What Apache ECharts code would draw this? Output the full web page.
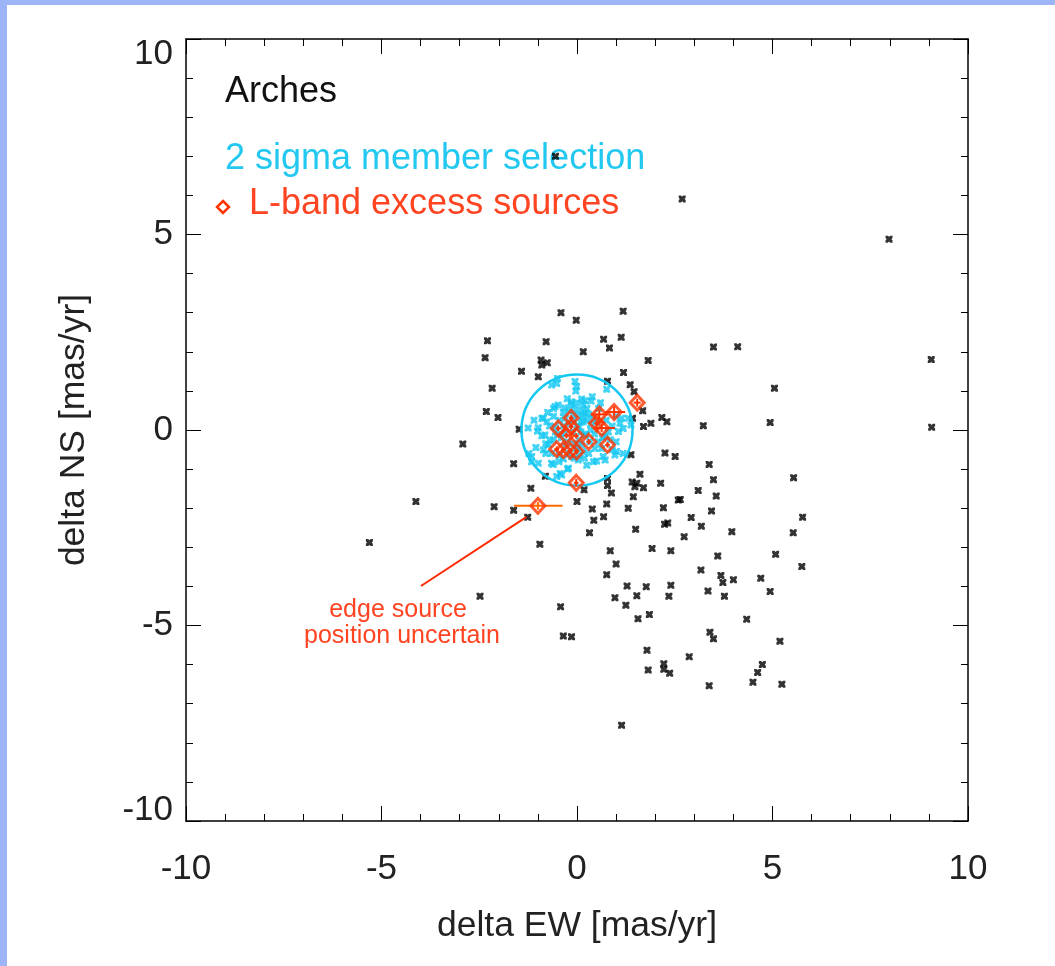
<!DOCTYPE html>
<html><head><meta charset="utf-8">
<script src="https://cdn.jsdelivr.net/npm/echarts@6/dist/echarts.min.js"></script>
<style>
html,body{margin:0;padding:0;background:#fff;}
#main{position:absolute;left:0;top:0;width:1055px;height:966px;}
#bt{position:absolute;left:0;top:0;width:1055px;height:5px;background:#9db5f7;}
#bl{position:absolute;left:0;top:0;width:7px;height:966px;background:#9db5f7;}
</style></head>
<body><div id="main"></div><div id="bt"></div><div id="bl"></div>
<script>
// ---- data (mas/yr) ----
const xTickLabels = ['-10','-5','0','5','10'];
const yTickLabels = ['-10','-5','0','5','10'];

const fieldStars = [
 [2.69,5.91],[7.98,4.88],[9.06,1.80],[9.07,0.07],[-0.55,7.0],
 [3.49,2.12],[4.11,2.13],[5.05,1.07],[3.23,0.11],[4.94,0.19],[3.38,-0.88],[3.49,-1.27],[5.54,-1.22],
 [-0.41,3.0],[-0.02,2.81],[1.18,3.04],[-2.29,2.28],[-0.79,2.26],[0.68,2.32],[1.13,2.37],[0.83,2.10],
 [0.16,2.0],[-2.35,1.85],[-0.92,1.79],[-0.76,1.72],[-0.90,1.66],[1.82,1.78],[-1.42,1.50],[-0.99,1.36],
 [1.19,1.47],[0.78,1.25],[1.36,1.16],[1.46,0.98],[-2.17,1.07],[-2.32,0.47],[-2.02,0.32],[-2.92,-0.36],
 [-1.48,0.02],[1.68,0.49],[1.70,0.09],[1.89,0.17],[2.17,0.32],[2.30,0.21],[1.42,0.30],[2.25,-0.59],
 [2.51,-0.68],[1.38,-0.63],[-1.62,-0.86],[1.61,-1.13],[1.41,-1.33],[1.53,-1.36],[1.48,-1.45],[1.70,-1.48],
 [2.14,-1.36],[0.78,-1.24],[0.78,-1.42],[-0.81,-1.18],[0.18,-1.53],[0.88,-1.61],[-1.18,-1.49],[0.76,-1.89],
 [0.0,-1.83],[1.44,-1.71],[2.21,-1.99],[-2.12,-1.96],[-1.62,-2.05],[0.39,-2.02],[1.31,-2.0],[2.59,-1.79],
 [-4.12,-1.83],[-5.31,-2.88],[-1.26,-2.23],[-0.95,-2.92],[-2.48,-4.25],[-0.42,-4.52],[-0.35,-5.27],[-0.14,-5.29],
 [3.10,-1.55],[3.56,-1.69],[2.64,-1.78],[3.44,-2.07],[0.43,-2.31],[0.68,-2.22],[5.77,-2.23],[2.92,-2.24],
 [2.24,-2.41],[2.32,-2.38],[3.18,-2.46],[0.32,-2.63],[1.50,-2.54],[3.96,-2.60],[5.53,-2.63],[2.74,-2.73],
 [0.85,-3.09],[1.92,-3.03],[2.40,-3.09],[3.60,-3.22],[5.08,-3.18],[1.0,-3.43],[5.75,-3.49],[3.17,-3.58],
 [0.76,-3.70],[3.68,-3.72],[3.73,-3.90],[4.0,-3.83],[4.70,-3.79],[1.28,-3.99],[1.77,-4.01],[2.40,-3.97],
 [0.97,-4.29],[1.53,-4.24],[2.35,-4.25],[3.35,-4.12],[3.77,-4.25],[4.94,-4.13],[1.25,-4.48],[1.56,-4.83],
 [1.85,-4.72],[4.34,-4.84],[3.40,-5.17],[3.49,-5.34],[5.19,-5.40],[1.79,-5.63],[2.87,-5.80],[4.74,-6.0],
 [4.62,-6.20],[1.82,-6.14],[2.22,-5.98],[2.22,-6.12],[2.37,-6.22],[4.50,-6.45],[5.24,-6.50],[3.38,-6.54],
 [1.14,-7.55]
];

const members = [
 [-0.50,1.32],[-0.52,1.19],[-0.05,1.24],[-0.01,1.11],[-0.03,1.00],[0.39,0.85],[0.36,0.74],[0.12,0.79],
 [-0.14,0.72],[-0.56,0.60],[-0.48,0.64],[-0.32,0.57],[0.16,0.64],[0.20,0.43],[0.03,0.38],[-0.86,0.30],
 [-0.77,0.21],[-1.01,-0.03],[-0.99,0.06],[-0.56,0.08],[0.05,0.08],[0.16,0.21],[-0.09,0.26],[1.14,0.30],
 [1.31,0.30],[1.38,0.13],[1.18,0.04],[1.06,-0.04],[0.72,-0.17],[0.63,-0.47],[0.46,-0.47],[1.18,-0.60],
 [0.97,-0.64],[-1.23,-0.60],[-1.16,-0.68],[-0.86,-0.51],[-0.69,-0.26],[-0.73,-0.38],[-0.65,-0.60],[-0.61,-0.88],
 [-0.46,-0.81],[-0.35,-0.74],[-0.99,-0.85],[-0.24,-1.00],[-0.43,-1.11],[-0.52,-1.19],[0.03,-0.77],[0.25,-0.90],
 [0.42,-0.81],[0.72,-0.77],[-0.14,-0.68],[0.22,-0.13],[0.33,-0.30],[0.12,-0.38],[-0.01,-0.47],[-0.82,-0.13],
 [-0.49,-0.11],[-0.31,-0.08],[0.76,1.04],[1.10,0.17],[-1.16,-0.81],[-0.39,-1.15],[0.50,-0.79],[0.67,-0.68],
 [1.01,-0.55],[0.19,-0.72],[-0.07,-0.72],[-0.65,1.15],[-0.65,-0.85],[-0.22,-0.98],
 [-0.35,0.45],[-0.2,0.5],[-0.05,0.55],[0.1,0.5],[0.25,0.55],[0.3,0.4],[0.4,0.3],[0.15,0.35],[-0.1,0.4],
 [-0.3,0.3],[-0.45,0.25],[-0.6,0.35],[-0.7,0.1],[-0.55,-0.05],[-0.4,-0.2],[-0.25,-0.3],[-0.1,-0.35],
 [0.05,-0.25],[0.2,-0.1],[0.35,0.0],[0.45,-0.1],[0.5,0.2],[0.35,0.15],[0.1,0.2],[0.0,0.1],[-0.2,0.15],
 [-0.35,0.1],[-0.1,-0.05],[0.1,-0.05],[0.25,0.25],[-0.6,-0.25],[-0.8,-0.35],[-0.9,-0.15],[-0.3,-0.4],
 [0.0,-0.45],[0.15,-0.55],[0.3,-0.6],[0.55,-0.3],[0.65,-0.2],[0.8,-0.05],[0.9,0.1],[0.75,0.25],[0.85,-0.25],
 [-0.15,0.65],[0.0,0.7],[0.2,0.75],[-0.25,0.8],[-0.6,0.55],[-0.75,0.45],[-0.9,0.3],[0.55,0.55],[0.6,0.7],
 [-0.45,-0.65],[-0.2,-0.6],[0.05,-0.65],[-0.8,-0.6],[-1.05,-0.45],[1.0,0.35],[1.0,-0.3],[0.9,-0.5],
 [-1.25,0.05],[-1.1,0.25]
];

// selection circle: [centre x, centre y, radius]
const selectionCircle = [[0.0, 0.0, 1.42]];

// L-band excess sources: [x, y]
const lbandX = [1.54,0.95,0.57,0.50,0.63,-0.15,-0.48,-0.15,-0.27,-0.02,0.30,0.78,-0.52,-0.35,-0.17,-0.01,-0.02,-1.00];
const lbandY = [0.70,0.46,0.40,0.17,0.05,0.31,0.04,0.08,-0.14,-0.15,-0.30,-0.38,-0.49,-0.51,-0.53,-0.55,-1.35,-1.94];
// error bar extents: [xlow, xhigh, ylow, yhigh]
const lbandErr = [
 [1.45,1.63,0.60,0.80],[0.72,1.23,0.33,0.60],[0.36,0.79,0.28,0.52],[0.44,0.56,0.10,0.24],[0.42,0.97,-0.05,0.15],
 [-0.21,-0.09,0.24,0.38],[-0.54,-0.42,-0.03,0.11],[-0.21,-0.09,0.01,0.15],[-0.33,-0.21,-0.21,-0.07],[-0.08,0.04,-0.22,-0.08],
 [0.24,0.36,-0.37,-0.23],[0.72,0.84,-0.45,-0.31],[-0.58,-0.46,-0.56,-0.42],[-0.41,-0.29,-0.58,-0.44],[-0.23,-0.11,-0.60,-0.46],
 [-0.07,0.05,-0.62,-0.48],[-0.08,0.04,-1.45,-1.25],[-1.61,-0.37,-2.04,-1.84]
];
const edgeSourceIndex = 17;

// annotation arrow (data coords)
const arrowLine = [[-3.99,-3.99],[-1.29,-2.22]];

// ---- chart ----
const FONT = '"Liberation Sans", Arial, Helvetica, sans-serif';
const blobSym = 'path://M0,0 L2,0 L3,1 L4,0 L6,0 L6,2 L5,3 L6,4 L6,6 L4,6 L3,5 L2,6 L0,6 L0,4 L1,3 L0,2 Z';
const CYAN = '#14c8f2';
const RED = '#ff3300';

const lband = lbandX.map((x, i) => [x, lbandY[i]]);
const errData = lbandX.map((x, i) => [x, lbandY[i]].concat(lbandErr[i]).concat([i === edgeSourceIndex ? 1 : 0]));

function axisCommon(pos, showLabel) {
  return {
    type: 'value', min: -10, max: 10, interval: 5, position: pos,
    axisLine: { show: true, onZero: false, lineStyle: { color: '#000', width: 1.5 } },
    axisTick: { show: true, inside: true, length: 15, lineStyle: { color: '#000', width: 1 } },
    minorTick: { show: true, splitNumber: 5, length: 7, lineStyle: { color: '#000', width: 1 } },
    splitLine: { show: false }, minorSplitLine: { show: false },
    axisLabel: { show: showLabel, fontSize: 35, color: '#222', fontFamily: FONT }
  };
}

const chart = echarts.init(document.getElementById('main'), null, { renderer: 'canvas' });
const xb = axisCommon('bottom', true);
xb.axisLabel.margin = 31;
xb.axisLabel.formatter = v => xTickLabels[xTickLabels.indexOf(String(v))] || String(v);
xb.name = 'delta EW [mas/yr]'; xb.nameLocation = 'middle'; xb.nameGap = 87;
xb.nameTextStyle = { fontSize: 35.5, color: '#222', fontFamily: FONT };
const xt = axisCommon('top', false);
const yl = axisCommon('left', true);
yl.axisLabel.margin = 13;
yl.axisLabel.formatter = v => {
  const s = yTickLabels[yTickLabels.indexOf(String(v))] || String(v);
  if (v === 10) return '{t|' + s + '}';
  if (v === -10) return '{b|' + s + '}';
  return s;
};
yl.axisLabel.rich = {
  t: { padding: [30, 0, 0, 0], fontSize: 35, color: '#222', fontFamily: FONT },
  b: { padding: [0, 0, 22, 0], fontSize: 35, color: '#222', fontFamily: FONT }
};
yl.name = 'delta NS [mas/yr]'; yl.nameLocation = 'middle'; yl.nameGap = 94; yl.nameRotate = 90;
yl.nameTextStyle = { fontSize: 35.5, color: '#222', fontFamily: FONT };
const yr = axisCommon('right', false);

chart.setOption({
  animation: false,
  backgroundColor: '#fff',
  grid: { left: 186, top: 39, width: 782, height: 782, containLabel: false },
  xAxis: [xb, xt],
  yAxis: [yl, yr],
  series: [
    { type: 'scatter', data: fieldStars, symbol: blobSym, symbolSize: 7, itemStyle: { color: '#000' }, z: 2 },
    { type: 'scatter', data: members, symbol: blobSym, symbolSize: 7, itemStyle: { color: CYAN }, z: 3 },
    { type: 'custom', data: selectionCircle, z: 4,
      renderItem: (p, api) => {
        const c = api.coord([api.value(0), api.value(1)]);
        const s = api.size([api.value(2), api.value(2)]);
        return { type: 'circle', shape: { cx: c[0], cy: c[1], r: s[0] },
                 style: { fill: 'none', stroke: CYAN, lineWidth: 2.5 } };
      } },
    { type: 'custom', data: errData, z: 5,
      renderItem: (p, api) => {
        const y = api.value(1), x = api.value(0);
        const a = api.coord([api.value(2), y]), b = api.coord([api.value(3), y]);
        const c = api.coord([x, api.value(4)]), d = api.coord([x, api.value(5)]);
        const col = api.value(6) === 1 ? '#ff6a00' : RED;
        return { type: 'group', children: [
          { type: 'line', shape: { x1: a[0], y1: a[1], x2: b[0], y2: b[1] }, style: { stroke: col, lineWidth: 2 } },
          { type: 'line', shape: { x1: c[0], y1: c[1], x2: d[0], y2: d[1] }, style: { stroke: col, lineWidth: 2 } }
        ] };
      } },
    { type: 'scatter', data: lband, symbol: 'diamond', symbolSize: [14, 15], z: 6,
      itemStyle: { color: 'rgba(0,0,0,0)', borderColor: RED, borderWidth: 3 } },
    { type: 'line', data: arrowLine, symbol: 'none', z: 6,
      lineStyle: { color: '#ff2a00', width: 2 } }
  ],
  graphic: [
    { type: 'text', left: 225, top: 74, style: { text: 'Arches', fill: '#111', fontSize: 36, fontFamily: FONT } },
    { type: 'text', left: 225, top: 141, style: { text: '2 sigma member selection', fill: '#22c8f0', fontSize: 36, fontFamily: FONT } },
    { type: 'text', left: 249, top: 186, style: { text: 'L-band excess sources', fill: '#ff4422', fontSize: 36, fontFamily: FONT } },
    { type: 'polygon', shape: { points: [[223,201],[229,207],[223,213],[217,207]] },
      style: { fill: 'none', stroke: RED, lineWidth: 2.5 } },
    { type: 'text', x: 398, y: 610, style: { text: 'edge source', fill: '#ff4422', fontSize: 25, fontFamily: FONT, align: 'center', verticalAlign: 'middle' } },
    { type: 'text', x: 402, y: 636, style: { text: 'position uncertain', fill: '#ff4422', fontSize: 25, fontFamily: FONT, align: 'center', verticalAlign: 'middle' } }
  ]
});
</script>
</body></html>
